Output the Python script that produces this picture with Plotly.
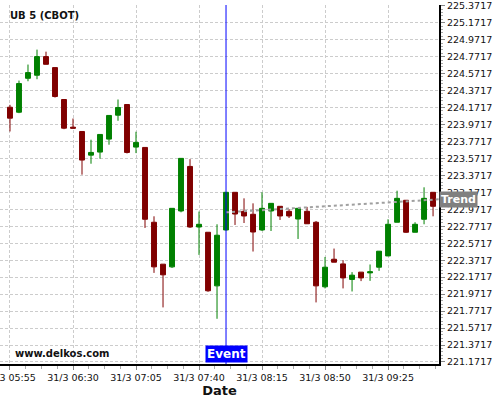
# UB 5 (CBOT) 5-minute candles with event marker and trend line

import pandas as pd
import plotly.graph_objects as go

times = pd.date_range("2025-03-31 05:55", periods=48, freq="5min")

opens = [224.175, 224.116, 224.516, 224.552, 224.772, 224.642, 224.266, 223.940,
         223.889, 223.610, 223.646, 223.799, 224.081, 224.207, 223.705, 223.701,
         222.819, 222.325, 222.293, 222.952, 223.477, 222.763, 222.701, 222.069,
         222.728, 223.172, 222.948, 222.913, 222.728, 222.952, 223.007, 222.948,
         222.857, 222.948, 222.819, 222.058, 222.383, 222.328, 222.145, 222.231,
         222.222, 222.289, 222.422, 222.819, 223.078, 222.701, 222.854, 223.172]
highs = [224.203, 224.489, 224.678, 224.854, 224.830, 224.642, 224.266, 224.042,
         223.889, 223.792, 223.854, 224.078, 224.266, 224.207, 223.886, 223.701,
         222.889, 222.325, 222.983, 223.572, 223.563, 222.945, 222.701, 222.795,
         223.172, 223.172, 223.101, 223.042, 223.172, 223.042, 223.007, 222.975,
         222.983, 223.000, 222.834, 222.410, 222.509, 222.372, 222.231, 222.231,
         222.321, 222.478, 222.854, 223.191, 223.078, 222.819, 223.231, 223.172]
lows = [223.889, 224.105, 224.481, 224.505, 224.680, 224.289, 223.916, 223.928,
        223.380, 223.509, 223.568, 223.733, 224.015, 223.630, 223.634, 222.752,
        222.222, 221.815, 222.280, 222.936, 222.752, 222.434, 221.999, 221.681,
        222.720, 222.787, 222.810, 222.474, 222.716, 222.716, 222.846, 222.869,
        222.622, 222.800, 221.874, 222.039, 222.348, 222.039, 222.003, 222.125,
        222.128, 222.246, 222.420, 222.819, 222.693, 222.700, 222.795, 222.889]
closes = [224.046, 224.454, 224.583, 224.772, 224.681, 224.301, 223.928, 223.928,
          223.552, 223.642, 223.854, 224.078, 224.172, 223.642, 223.760, 222.854,
          222.293, 222.199, 222.983, 223.572, 222.763, 222.795, 222.011, 222.666,
          223.172, 222.916, 222.893, 222.704, 222.983, 223.042, 222.893, 222.893,
          222.983, 222.801, 222.069, 222.289, 222.348, 222.163, 222.195, 222.163,
          222.235, 222.478, 222.795, 223.101, 222.701, 222.795, 223.101, 223.007]

event_time = "2025-03-31 07:55"
trend_x = ["2025-03-31 07:55", "2025-03-31 09:53:18"]
trend_y = [222.936, 223.089]

tick_times = pd.date_range("2025-03-31 05:55", periods=7, freq="35min")
tick_labels = ["31/3 05:55", "31/3 06:30", "31/3 07:05", "31/3 07:40",
               "31/3 08:15", "31/3 08:50", "31/3 09:25"]
y_ticks = [221.1717 + 0.2 * i for i in range(22)]
y_labels = [f"{v:.4f}" for v in y_ticks]

fig = go.Figure()

fig.add_trace(
    go.Candlestick(
        x=times,
        open=opens,
        high=highs,
        low=lows,
        close=closes,
        increasing=dict(line=dict(color='#008000', width=1), fillcolor='#008000'),
        decreasing=dict(line=dict(color='#800000', width=1), fillcolor='#800000'),
        whiskerwidth=0,
        showlegend=False
    )
)

fig.add_trace(
    go.Scatter(
        x=trend_x,
        y=trend_y,
        mode='lines',
        line=dict(color='#a0a0a0', width=2, dash='dot'),
        showlegend=False
    )
)

fig.add_shape(
    type='line', xref='x', yref='paper',
    x0=event_time, x1=event_time, y0=0, y1=1,
    line=dict(color='#0000ff', width=1)
)

fig.add_annotation(
    x=event_time, xref='x', y=0, yref='paper', yanchor='bottom', yshift=1,
    text='<b>Event</b>', showarrow=False,
    font=dict(family='DejaVu Sans', size=12, color='white'),
    bgcolor='#0000ff', borderpad=1
)

fig.add_annotation(
    x=1, xref='paper', xanchor='left', xshift=0, y=trend_y[-1], yref='y',
    text='<b>Trend</b>', showarrow=False,
    font=dict(family='DejaVu Sans', size=11, color='white'),
    bgcolor='#808080', borderpad=1
)

fig.add_annotation(
    x=0, xref='paper', xanchor='left', xshift=8, y=1, yref='paper', yanchor='top', yshift=-3,
    text='<b>UB 5 (CBOT)</b>', showarrow=False,
    font=dict(family='DejaVu Sans', size=10, color='#111111')
)

fig.add_annotation(
    x=0, xref='paper', xanchor='left', xshift=13, y=0, yref='paper', yanchor='bottom', yshift=3,
    text='<b>www.delkos.com</b>', showarrow=False,
    font=dict(family='DejaVu Sans', size=10, color='#111111')
)

grid = dict(showgrid=True, gridcolor='#cccccc', gridwidth=1, griddash='3px,2px')

fig.update_layout(
    width=500,
    height=400,
    plot_bgcolor='white',
    paper_bgcolor='white',
    margin=dict(l=0, r=61, t=5, b=36, autoexpand=False),
    font=dict(family='DejaVu Sans', size=9.5, color='#111111'),
    boxgap=0.22,
    showlegend=False,
    xaxis=dict(
        type='date',
        automargin=False,
        range=["2025-03-31 05:49:27", "2025-03-31 09:53:18"],
        tickvals=tick_times,
        ticktext=tick_labels,
        ticklabeloverflow='allow',
        ticks='outside',
        ticklen=4,
        tickcolor='#888888',
        showline=True,
        linecolor='black',
        linewidth=2,
        rangeslider=dict(visible=False),
        minor=dict(dtick=525000, tick0="2025-03-31 05:55", ticks='outside',
                   ticklen=3, tickcolor='#aaaaaa', showgrid=False),
        title=dict(text='<b>Date</b>', font=dict(size=13), standoff=2),
        zeroline=False,
        **grid
    ),
    yaxis=dict(
        side='right',
        automargin=False,
        range=[221.148, 225.38],
        tickvals=y_ticks,
        ticktext=y_labels,
        ticklabeloverflow='allow',
        ticks='outside',
        ticklen=4,
        tickcolor='#888888',
        showline=True,
        linecolor='black',
        linewidth=2,
        minor=dict(dtick=0.04, tick0=221.1717, ticks='outside', ticklen=2,
                   tickcolor='#aaaaaa', showgrid=False),
        zeroline=False,
        **grid
    )
)

# the page body has a default 8px margin; drop it so the chart sits at 0,0
fig.write_html("out.html", config={'displayModeBar': False},
               post_script="document.body.style.margin='0px';")
